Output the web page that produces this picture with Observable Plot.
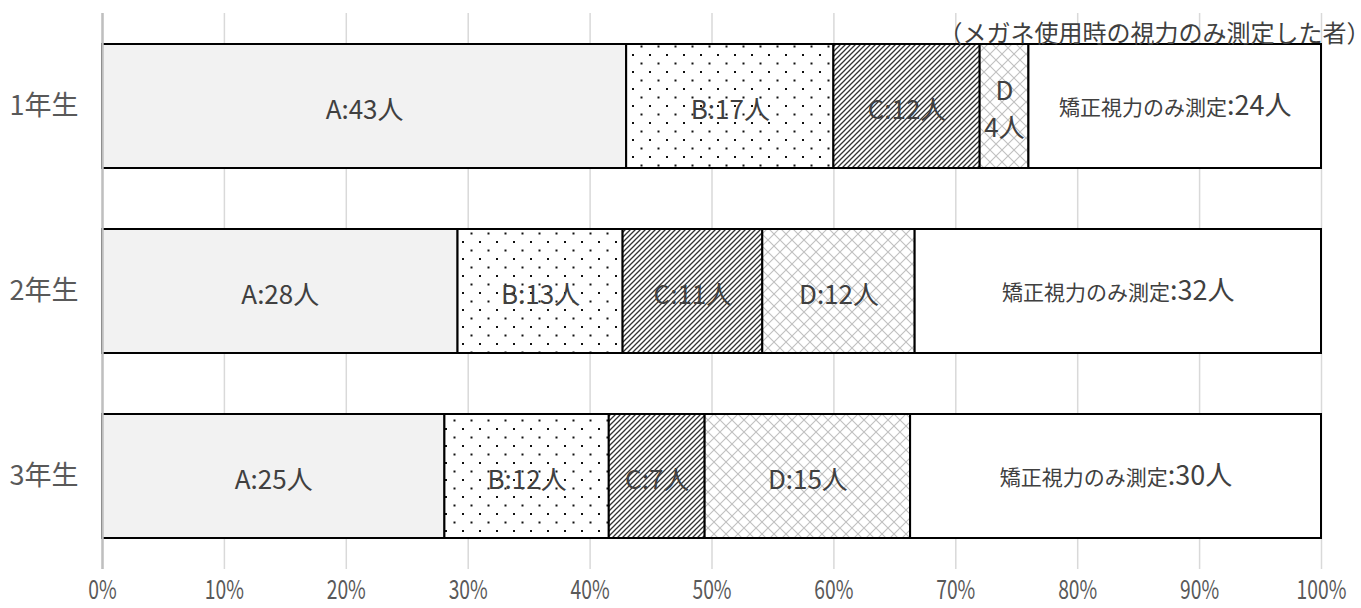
<!DOCTYPE html>
<html>
<head>
<meta charset="utf-8">
<script src="https://cdn.jsdelivr.net/npm/d3@7"></script>
<script src="https://cdn.jsdelivr.net/npm/@observablehq/plot@0.6"></script>
<style>
  html, body { margin: 0; padding: 0; background: #fff; }
  #chart svg { display: block; }
</style>
</head>
<body>
<div id="chart"></div>
<script>
// ---- data ----
const grades = ["1年生", "2年生", "3年生"];
const categories = ["A", "B", "C", "D", "矯正視力のみ測定"];
const seriesA = [43, 28, 25];
const seriesB = [17, 13, 12];
const seriesC = [12, 11, 7];
const seriesD = [4, 12, 15];
const seriesE = [24, 32, 30];
const xTicks = [0, 0.1, 0.2, 0.3, 0.4, 0.5, 0.6, 0.7, 0.8, 0.9, 1.0];
const noteText = "（メガネ使用時の視力のみ測定した者）";
const noteX = 0.863;     // note position (share of bar)
const leaderX = 0.873;   // leader line position

const seriesByCat = [seriesA, seriesB, seriesC, seriesD, seriesE];
const rows = [];
grades.forEach((g, i) => {
  const total = d3.sum(seriesByCat, s => s[i]);
  categories.forEach((c, j) => {
    const v = seriesByCat[j][i];
    const narrow = v / total < 0.06;
    rows.push({grade: g, cat: c, value: v, label: narrow ? `${c}\n${v}人` : `${c}:${v}人`});
  });
});

const FONT = '"Noto Sans CJK JP", "Noto Sans", sans-serif';
const fills = ["#f2f2f2", "url(#pB)", "url(#pC)", "url(#pD)", "#ffffff"];
const lastCat = categories[categories.length - 1];

const chart = Plot.plot({
  width: 1361,
  height: 608,
  marginLeft: 102,
  marginRight: 40,
  marginTop: 13,
  marginBottom: 39,
  style: {fontFamily: FONT, color: "#595959", background: "#fff"},
  x: {domain: [0, 1], axis: null, label: null},
  y: {domain: grades, paddingInner: 0.33, paddingOuter: 0.1676, axis: null, label: null},
  color: {domain: categories, range: fills},
  marks: [
    Plot.gridX(xTicks, {stroke: "#d9d9d9", strokeOpacity: 1, strokeWidth: 1.5}),
    Plot.barX(rows, Plot.stackX({x: "value", y: "grade", fill: "cat", offset: "normalize", stroke: "#000", strokeWidth: 2})),
    Plot.ruleX([0], {stroke: "#bfbfbf", strokeWidth: 2.5}),
    Plot.textX(rows, Plot.stackX({
      x: "value", y: "grade", offset: "normalize",
      text: d => d.cat === lastCat ? "" : d.label,
      fontSize: 26, fill: "#404040", lineHeight: 1.45
    })),
    Plot.textX(rows, Plot.stackX({
      x: "value", y: "grade", offset: "normalize",
      text: d => d.cat === lastCat ? d.label : "",
      fontSize: 26, fill: "#404040", className: "elabel"
    })),
    Plot.axisX(xTicks, {tickSize: 0, tickPadding: 11, fontSize: 26, tickFormat: d3.format(".0%"), fill: "#595959", label: null, className: "xaxis"}),
    Plot.axisY({tickSize: 0, tickPadding: 24, fontSize: 27, fill: "#595959", label: null}),
    Plot.text([noteText], {x: noteX, frameAnchor: "top", dy: 11, text: d => d, fontSize: 24, fill: "#404040"}),
    Plot.ruleX([leaderX], {y: [grades[0]], stroke: "#595959", strokeWidth: 1.2, insetBottom: 105})
  ]
});

const svg = d3.select(chart);
const defs = svg.insert("defs", ":first-child");
// B: dotted
const pB = defs.append("pattern").attr("id", "pB").attr("patternUnits", "userSpaceOnUse")
  .attr("width", 17).attr("height", 17);
pB.append("rect").attr("width", 17).attr("height", 17).attr("fill", "#fff");
pB.append("rect").attr("x", 3).attr("y", 3).attr("width", 2).attr("height", 2).attr("fill", "#111");
pB.append("rect").attr("x", 11.5).attr("y", 11.5).attr("width", 2).attr("height", 2).attr("fill", "#111");
// C: dense upward diagonal
const pC = defs.append("pattern").attr("id", "pC").attr("patternUnits", "userSpaceOnUse")
  .attr("width", 5).attr("height", 5);
pC.append("rect").attr("width", 5).attr("height", 5).attr("fill", "#fff");
pC.append("path").attr("d", "M-1,1 L1,-1 M0,5 L5,0 M4,6 L6,4")
  .attr("stroke", "#333").attr("stroke-width", 1.3);
// D: light diagonal crosshatch
const pD = defs.append("pattern").attr("id", "pD").attr("patternUnits", "userSpaceOnUse")
  .attr("width", 12).attr("height", 12);
pD.append("rect").attr("width", 12).attr("height", 12).attr("fill", "#fff");
pD.append("path").attr("d", "M0,0 L12,12 M12,0 L0,12")
  .attr("stroke", "#c0c0c0").attr("stroke-width", 1.1);

// E labels: smaller Japanese part, larger count
svg.selectAll("g.elabel text").each(function() {
  const t = this.textContent;
  if (!t) return;
  const k = t.indexOf(":");
  const el = d3.select(this);
  el.text(null);
  el.append("tspan").attr("font-size", 21).text(t.slice(0, k));
  el.append("tspan").attr("font-size", 27).text(t.slice(k));
});

document.getElementById("chart").appendChild(chart);

// condensed look for x tick labels
svg.selectAll("g.xaxis text").each(function() {
  const len = this.getComputedTextLength();
  d3.select(this).attr("textLength", len * 0.74).attr("lengthAdjust", "spacingAndGlyphs");
});
</script>
</body>
</html>
